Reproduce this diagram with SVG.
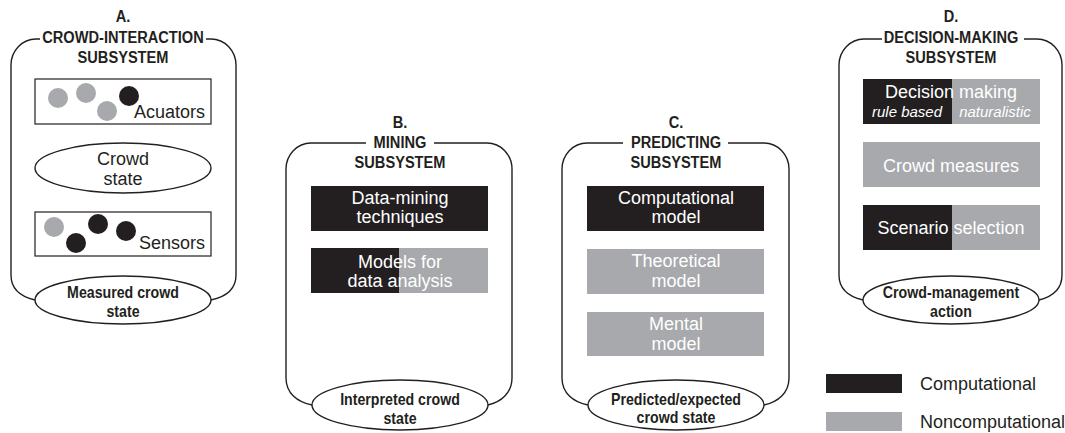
<svg xmlns="http://www.w3.org/2000/svg" width="1065" height="433" viewBox="0 0 1065 433">
<style>
.frame{fill:none;stroke:#231f20;stroke-width:1.4}
.ell{fill:#fff;stroke:#231f20;stroke-width:1.4}
.box{fill:#fff;stroke:#231f20;stroke-width:1.2}
.blk{fill:#231f20}
.gry{fill:#a7a9ac}
.ttl{font-family:"Liberation Sans",Arial,sans-serif;font-weight:bold;font-size:17px;fill:#231f20;text-anchor:middle}
.eltx{font-family:"Liberation Sans",Arial,sans-serif;font-weight:bold;font-size:16.5px;fill:#231f20;text-anchor:middle}
.tx{font-family:"Liberation Sans",Arial,sans-serif;font-size:18px;fill:#231f20}
.wt{font-family:"Liberation Sans",Arial,sans-serif;font-size:18px;fill:#fff;text-anchor:middle}
.it{font-family:"Liberation Sans",Arial,sans-serif;font-size:15px;font-style:italic;fill:#fff;text-anchor:middle}
</style>
<rect width="1065" height="433" fill="#fff"/>

<g id="panelA">
  <path class="frame" d="M 40 39 H 36 C 22 39 11 51 11 65 V 275 C 11 290 22 297 35 300"/>
  <path class="frame" d="M 206 39 H 211 C 225 39 236 51 236 65 V 275 C 236 290 225 297 211 300"/>
  <g transform="translate(123,0) scale(0.86,1)">
    <text class="ttl" x="0" y="22">A.</text>
    <text class="ttl" x="0" y="43">CROWD-INTERACTION</text>
    <text class="ttl" x="0" y="63">SUBSYSTEM</text>
  </g>
  <g id="actuators">
    <rect class="box" x="35" y="79" width="176" height="45"/>
    <circle cx="58" cy="98" r="10" class="gry"/>
    <circle cx="86" cy="93" r="10" class="gry"/>
    <circle cx="107" cy="111" r="10" class="gry"/>
    <circle cx="129" cy="96" r="10" class="blk"/>
    <text class="tx" x="205" y="118" text-anchor="end">Acuators</text>
  </g>
  <g id="crowdstate">
    <ellipse class="ell" cx="123" cy="168" rx="88" ry="25"/>
    <text class="tx" x="123" y="165" text-anchor="middle">Crowd</text>
    <text class="tx" x="123" y="185" text-anchor="middle">state</text>
  </g>
  <g id="sensors">
    <rect class="box" x="35" y="212" width="176" height="44"/>
    <circle cx="54" cy="227" r="10" class="gry"/>
    <circle cx="76" cy="243" r="10" class="blk"/>
    <circle cx="98" cy="224" r="10" class="blk"/>
    <circle cx="126" cy="231" r="10" class="blk"/>
    <text class="tx" x="205" y="249" text-anchor="end">Sensors</text>
  </g>
  <g id="outA">
    <ellipse class="ell" cx="123" cy="300" rx="88" ry="24"/>
    <g transform="translate(123,0) scale(0.86,1)">
      <text class="eltx" x="0" y="298">Measured crowd</text>
      <text class="eltx" x="0" y="317">state</text>
    </g>
  </g>
</g>

<g id="panelB">
  <path class="frame" d="M 366 143 H 311 C 297 143 286 155 286 169 V 378 C 286 393 297 402 312 405"/>
  <path class="frame" d="M 434 143 H 487 C 501 143 512 155 512 169 V 378 C 512 393 501 402 488 405"/>
  <g transform="translate(400,0) scale(0.86,1)">
    <text class="ttl" x="0" y="128">B.</text>
    <text class="ttl" x="0" y="148">MINING</text>
    <text class="ttl" x="0" y="168">SUBSYSTEM</text>
  </g>
  <g id="datamining">
    <rect class="blk" x="311" y="186" width="177" height="45"/>
    <text class="wt" x="400" y="204">Data-mining</text>
    <text class="wt" x="400" y="223">techniques</text>
  </g>
  <g id="models">
    <rect class="blk" x="311" y="248" width="89" height="45"/>
    <rect class="gry" x="399" y="248" width="89" height="45"/>
    <text class="wt" x="400" y="268">Models for</text>
    <text class="wt" x="400" y="287">data analysis</text>
  </g>
  <g id="outB">
    <ellipse class="ell" cx="400" cy="405" rx="88" ry="25"/>
    <g transform="translate(400,0) scale(0.86,1)">
      <text class="eltx" x="0" y="405">Interpreted crowd</text>
      <text class="eltx" x="0" y="424">state</text>
    </g>
  </g>
</g>

<g id="panelC">
  <path class="frame" d="M 623 143 H 587 C 573 143 562 155 562 169 V 378 C 562 393 573 402 588 405"/>
  <path class="frame" d="M 728 143 H 764 C 778 143 789 155 789 169 V 378 C 789 393 778 402 764 405"/>
  <g transform="translate(676,0) scale(0.86,1)">
    <text class="ttl" x="0" y="128">C.</text>
    <text class="ttl" x="0" y="148">PREDICTING</text>
    <text class="ttl" x="0" y="168">SUBSYSTEM</text>
  </g>
  <g id="computational">
    <rect class="blk" x="587" y="186" width="177" height="45"/>
    <text class="wt" x="676" y="204">Computational</text>
    <text class="wt" x="676" y="223">model</text>
  </g>
  <g id="theoretical">
    <rect class="gry" x="587" y="249" width="177" height="45"/>
    <text class="wt" x="676" y="267">Theoretical</text>
    <text class="wt" x="676" y="287">model</text>
  </g>
  <g id="mental">
    <rect class="gry" x="587" y="312" width="177" height="44"/>
    <text class="wt" x="676" y="330">Mental</text>
    <text class="wt" x="676" y="350">model</text>
  </g>
  <g id="outC">
    <ellipse class="ell" cx="676" cy="405" rx="88" ry="25"/>
    <g transform="translate(676,0) scale(0.86,1)">
      <text class="eltx" x="0" y="405">Predicted/expected</text>
      <text class="eltx" x="0" y="423">crowd state</text>
    </g>
  </g>
</g>

<g id="panelD">
  <path class="frame" d="M 882 39 H 864 C 850 39 839 51 839 65 V 275 C 839 290 850 297 863 300"/>
  <path class="frame" d="M 1024 39 H 1037 C 1051 39 1062 51 1062 65 V 275 C 1062 290 1051 297 1039 300"/>
  <g transform="translate(951,0) scale(0.86,1)">
    <text class="ttl" x="0" y="22">D.</text>
    <text class="ttl" x="0" y="43">DECISION-MAKING</text>
    <text class="ttl" x="0" y="63">SUBSYSTEM</text>
  </g>
  <g id="decision">
    <rect class="blk" x="863" y="79" width="89" height="45"/>
    <rect class="gry" x="952" y="79" width="88" height="45"/>
    <text class="wt" x="951" y="98">Decision making</text>
    <text class="it" x="907" y="117">rule based</text>
    <text class="it" x="995" y="117">naturalistic</text>
  </g>
  <g id="measures">
    <rect class="gry" x="863" y="142" width="177" height="45"/>
    <text class="wt" x="951" y="172">Crowd measures</text>
  </g>
  <g id="scenario">
    <rect class="blk" x="863" y="205" width="89" height="45"/>
    <rect class="gry" x="952" y="205" width="88" height="45"/>
    <text class="wt" x="951" y="234">Scenario selection</text>
  </g>
  <g id="outD">
    <ellipse class="ell" cx="951" cy="300" rx="88" ry="24"/>
    <g transform="translate(951,0) scale(0.86,1)">
      <text class="eltx" x="0" y="298">Crowd-management</text>
      <text class="eltx" x="0" y="317">action</text>
    </g>
  </g>
</g>

<g id="legend">
  <rect class="blk" x="826" y="374" width="76" height="19"/>
  <text class="tx" x="920" y="390">Computational</text>
  <rect class="gry" x="826" y="412" width="76" height="19"/>
  <text class="tx" x="920" y="428">Noncomputational</text>
</g>
<g id="connectors"/>
</svg>
